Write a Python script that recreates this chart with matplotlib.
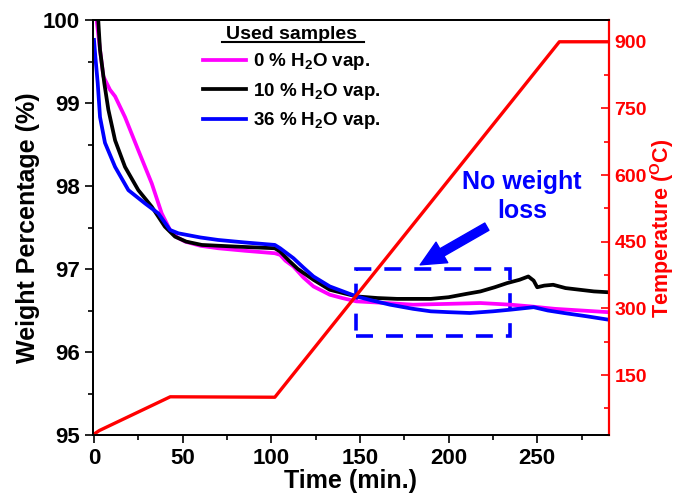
import matplotlib
matplotlib.use("Agg")
import matplotlib.pyplot as plt
from matplotlib.ticker import MultipleLocator
from matplotlib.patches import Rectangle

plt.rcParams['font.family'] = ['Liberation Sans', 'DejaVu Sans']
plt.rcParams['font.weight'] = 'bold'
plt.rcParams['mathtext.fontset'] = 'custom'
plt.rcParams['mathtext.rm'] = 'Liberation Sans:bold'
plt.rcParams['mathtext.bf'] = 'Liberation Sans:bold'
plt.rcParams['mathtext.it'] = 'Liberation Sans:bold'

# ---- data ----
t_0 = [1.0, 1.5, 3.4, 5.3, 9.0, 11.9, 17.5, 25.0, 32.6, 38.2, 42.9, 47.0, 51.4, 60.0, 70.0, 85.0,
       102.0, 105.0, 108.0, 112.5, 118.0, 123.8, 133.0, 140.0, 148.0, 165.0, 180.0, 200.0, 218.0,
       235.0, 246.0, 260.0, 275.0, 290.0]
w_0 = [100.4, 100.0, 99.64, 99.32, 99.16, 99.08, 98.83, 98.43, 98.03, 97.67, 97.47, 97.38, 97.33,
       97.28, 97.25, 97.22, 97.19, 97.17, 97.10, 97.03, 96.90, 96.79, 96.69, 96.65, 96.61, 96.59,
       96.57, 96.58, 96.59, 96.57, 96.55, 96.52, 96.50, 96.48]

t_10 = [1.5, 2.4, 3.4, 5.8, 8.1, 11.9, 17.5, 25.0, 32.6, 40.0, 45.7, 52.0, 60.8, 80.0, 102.0,
        105.0, 110.0, 115.0, 123.8, 133.0, 148.0, 160.0, 171.0, 180.0, 190.0, 200.0, 210.0,
        218.0, 226.0, 233.0, 240.0, 245.0, 248.0, 250.0, 254.0, 259.0, 266.0, 274.0, 282.0, 290.0]
w_10 = [100.4, 100.0, 99.64, 99.24, 98.92, 98.55, 98.23, 97.95, 97.75, 97.51, 97.39, 97.33, 97.29,
        97.27, 97.25, 97.21, 97.10, 97.00, 96.87, 96.75, 96.67, 96.65, 96.64, 96.64, 96.64, 96.66,
        96.70, 96.73, 96.78, 96.83, 96.87, 96.91, 96.86, 96.78, 96.80, 96.81, 96.77, 96.75, 96.73,
        96.72]

t_36 = [0.0, 0.8, 2.1, 3.4, 6.2, 11.9, 19.4, 28.8, 36.3, 42.9, 47.6, 60.0, 70.0, 85.0, 102.0,
        105.0, 112.5, 118.0, 123.8, 133.0, 148.0, 157.0, 167.0, 180.0, 190.0, 200.0, 212.0,
        225.0, 235.0, 248.0, 256.0, 265.0, 278.0, 290.0]
w_36 = [99.76, 99.55, 99.24, 98.83, 98.52, 98.23, 97.95, 97.79, 97.67, 97.47, 97.43, 97.38,
        97.35, 97.32, 97.29, 97.25, 97.13, 97.02, 96.91, 96.79, 96.67, 96.62, 96.57, 96.52,
        96.49, 96.48, 96.47, 96.49, 96.51, 96.54, 96.50, 96.47, 96.43, 96.39]

t_temp = [0.0, 3.0, 43.0, 102.0, 262.5, 290.0]
temp = [17.0, 25.0, 101.0, 100.0, 900.0, 900.0]

labels = ["0 % H$_\\mathbf{2}$O vap.", "10 % H$_\\mathbf{2}$O vap.", "36 % H$_\\mathbf{2}$O vap."]
colors = ["#FF00FF", "#000000", "#0000FF"]
legend_title = "Used samples"

box_t = [148.0, 234.4]
box_w = [96.19, 97.0]
arrow_tail = (221.6, 97.51)
arrow_tip = (184.0, 97.05)
note_pos = (241.5, 97.87)
note_text = "No weight\nloss"

# ---- figure ----
fig = plt.figure(figsize=(6.76, 4.96), dpi=100)
ax1 = fig.add_axes([93/676, 1-435/496, (609-93)/676, (435-20)/496])
ax2 = ax1.twinx()

for t, w, c, lab in zip([t_0, t_10, t_36], [w_0, w_10, w_36], colors, labels):
    ax1.plot(t, w, color=c, lw=2.7, label=lab, solid_joinstyle='round')

ax2.plot(t_temp, temp, color='#FF0000', lw=2.4)

ax1.set_xlim(-0.56, 290.5)
ax1.set_ylim(95, 100)
ax2.set_ylim(15, 949)

ax1.xaxis.set_major_locator(MultipleLocator(50))
ax1.xaxis.set_minor_locator(MultipleLocator(25))
ax1.yaxis.set_major_locator(MultipleLocator(1))
ax1.yaxis.set_minor_locator(MultipleLocator(0.5))
ax2.yaxis.set_major_locator(MultipleLocator(150))
ax2.yaxis.set_minor_locator(MultipleLocator(75))
ax2.set_yticks([150, 300, 450, 600, 750, 900])

ax1.tick_params(axis='both', which='major', direction='out', length=6, width=1.2, labelsize=16, top=False, right=False)
ax1.tick_params(axis='both', which='minor', direction='out', length=3.5, width=1.2, top=False, right=False)
ax2.tick_params(axis='y', which='major', direction='in', length=6, width=1.2, labelsize=14, colors='#FF0000', pad=4)
ax2.tick_params(axis='y', which='minor', direction='in', length=3.5, width=1.2, colors='#FF0000')

for sp in ['left', 'bottom', 'top']:
    ax1.spines[sp].set_linewidth(1.3)
    ax2.spines[sp].set_linewidth(1.3)
ax2.spines['right'].set_color('#FF0000')
ax2.spines['right'].set_linewidth(1.6)
ax1.spines['right'].set_visible(False)

ax1.set_xlabel("Time (min.)", fontsize=18, fontweight='bold', labelpad=0)
ax1.set_ylabel("Weight Percentage (%)", fontsize=18, fontweight='bold', labelpad=2)
fig.text(662/676, 1-228/496, "Temperature ($^\\mathbf{O}$C)", fontsize=15.5, fontweight='bold',
         color='#FF0000', rotation=90, ha='center', va='center')

# dashed box
rect = Rectangle((box_t[0], box_w[0]), box_t[1]-box_t[0], box_w[1]-box_w[0], fill=False,
                 edgecolor='#0000FF', lw=2.6, linestyle=(0, (4.7, 3.6)))
ax1.add_patch(rect)

ax1.annotate('', xy=arrow_tip, xytext=arrow_tail,
             arrowprops=dict(arrowstyle='simple,head_length=0.9,head_width=0.85,tail_width=0.3',
                             color='#0000FF', mutation_scale=20, shrinkA=0, shrinkB=0))
ax1.text(note_pos[0], note_pos[1], note_text, color='#0000FF', fontsize=18, fontweight='bold',
         ha='center', va='center', linespacing=1.25)

leg = ax1.legend(loc='upper left', bbox_to_anchor=((203-93)/516, (435-26)/415), frameon=False,
                 title=legend_title, fontsize=13.5, title_fontproperties={'weight': 'bold', 'size': 14},
                 handlelength=2.3, handletextpad=0.35, labelspacing=0.45, borderpad=0, borderaxespad=0)
leg.set_zorder(10)

fig.canvas.draw()
bb = leg.get_title().get_window_extent()
inv = fig.transFigure.inverted()
(x0, y0) = inv.transform((bb.x0 - 4, bb.y0 + 1))
(x1, _) = inv.transform((bb.x1 + 7, bb.y0 + 1))
fig.add_artist(plt.Line2D([x0, x1], [y0, y0], color='black', lw=1.5, transform=fig.transFigure))

fig.savefig("out.png", dpi=100)
